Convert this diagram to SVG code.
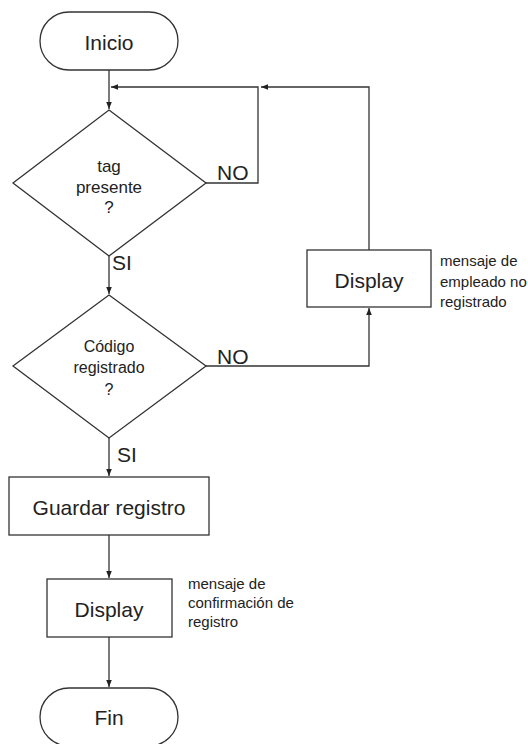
<svg xmlns="http://www.w3.org/2000/svg" width="528" height="744" viewBox="0 0 528 744">
<defs>
<marker id="ah" viewBox="0 0 10 10" refX="10" refY="5" markerWidth="7" markerHeight="7" markerUnits="userSpaceOnUse" orient="auto">
<path d="M0,1 L10,5 L0,9 Z" fill="#222"/>
</marker>
<style>
.shape{fill:#fff;stroke:#333;stroke-width:1.3}
.line{fill:none;stroke:#333;stroke-width:1.3}
text{font-family:"Liberation Sans",Arial,sans-serif;fill:#222}
.big{font-size:21px;text-anchor:middle}
.dec{font-size:17px;text-anchor:middle}
.dec2{font-size:16px;text-anchor:middle}
.lbl{font-size:21px}
.note{font-size:15px}
</style>
</defs>
<rect width="528" height="744" fill="#fff"/>
<g id="connectors">
<path class="line" d="M109,70 V109" marker-end="url(#ah)"/>
<path class="line" d="M206,183 H258 V87 H111" marker-end="url(#ah)"/>
<path class="line" d="M369,250 V87 H261" marker-end="url(#ah)"/>
<path class="line" d="M109,256 V294" marker-end="url(#ah)"/>
<path class="line" d="M206,366 H369 V308" marker-end="url(#ah)"/>
<path class="line" d="M109,438 V476" marker-end="url(#ah)"/>
<path class="line" d="M109,535 V578" marker-end="url(#ah)"/>
<path class="line" d="M109,637 V687" marker-end="url(#ah)"/>
<text class="lbl" x="217" y="180">NO</text>
<text class="lbl" x="112" y="270">SI</text>
<text class="lbl" x="217" y="364">NO</text>
<text class="lbl" x="117" y="462">SI</text>
</g>
<g id="inicio">
<rect class="shape" x="40" y="12" width="138" height="58" rx="29"/>
<text class="big" x="109" y="50">Inicio</text>
</g>
<g id="tag-presente">
<polygon class="shape" points="109,110 206,183 109,256 13,183"/>
<text class="dec" x="109" y="172">tag</text>
<text class="dec" x="109" y="193">presente</text>
<text class="dec" x="109" y="213">?</text>
</g>
<g id="codigo-registrado">
<polygon class="shape" points="109,295 206,366 109,438 13,366"/>
<text class="dec2" x="109" y="352">Código</text>
<text class="dec2" x="109" y="373">registrado</text>
<text class="dec2" x="109" y="395">?</text>
</g>
<g id="display-no-registrado">
<rect class="shape" x="307" y="250" width="124" height="57"/>
<text class="big" x="369" y="288">Display</text>
<text class="note" x="440" y="266">mensaje de</text>
<text class="note" x="440" y="287">empleado no</text>
<text class="note" x="440" y="307">registrado</text>
</g>
<g id="guardar">
<rect class="shape" x="9" y="477" width="200" height="58"/>
<text class="big" x="109" y="515">Guardar registro</text>
</g>
<g id="display-confirmacion">
<rect class="shape" x="47" y="579" width="125" height="58"/>
<text class="big" x="109" y="617">Display</text>
<text class="note" x="188" y="589">mensaje de</text>
<text class="note" x="188" y="608">confirmación de</text>
<text class="note" x="188" y="627">registro</text>
</g>
<g id="fin">
<rect class="shape" x="40" y="688" width="138" height="58" rx="29"/>
<text class="big" x="109" y="725">Fin</text>
</g>
</svg>
